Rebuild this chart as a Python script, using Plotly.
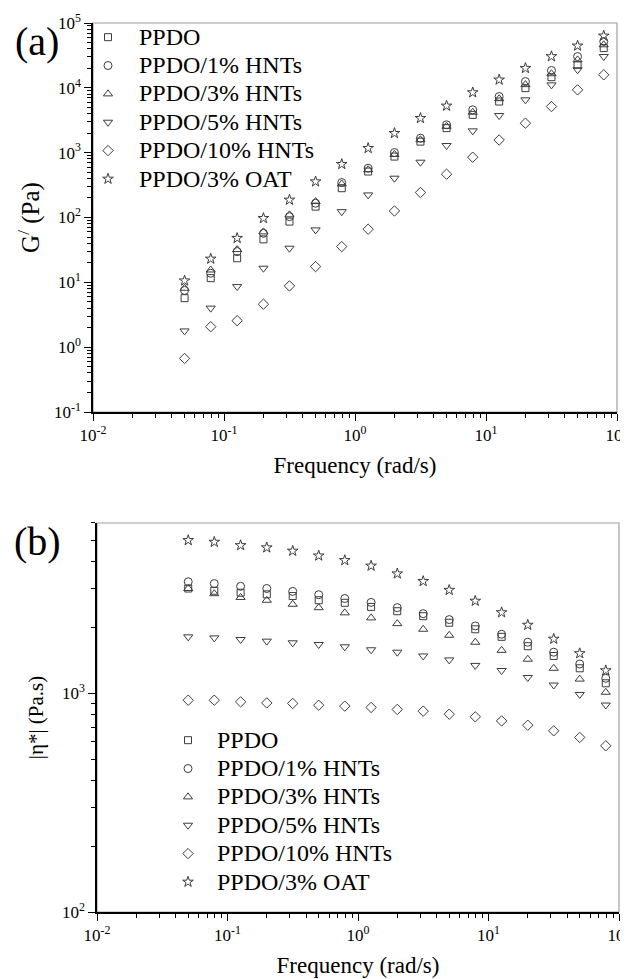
import plotly.graph_objects as go

# ---------------- data ----------------
freq = [0.05, 0.0792, 0.126, 0.2, 0.316, 0.5, 0.792, 1.26, 2.0, 3.16,
        5.0, 7.92, 12.6, 20.0, 31.6, 50.0, 79.2]

series_names = ["PPDO", "PPDO/1% HNTs", "PPDO/3% HNTs", "PPDO/5% HNTs",
                "PPDO/10% HNTs", "PPDO/3% OAT"]

# storage modulus G' (Pa)
g_ppdo = [5.7, 11.6, 23.5, 46, 86.5, 147, 283, 512, 870, 1480, 2390, 3830,
          6150, 9890, 14600, 22600, 41000]
g_hnt1 = [7.5, 13.8, 29.8, 57, 103, 166, 346, 576, 1004, 1672, 2690, 4580,
          7350, 12500, 18500, 30400, 51900]
g_hnt3 = [8.1, 15.5, 32, 60, 110, 176, 330, 545, 940, 1580, 2550, 4200,
          6800, 11200, 16500, 27000, 46100]
g_hnt5 = [1.78, 4.0, 8.6, 16.5, 33.6, 64.4, 123, 223, 404, 713, 1290, 2170,
          3740, 6530, 11100, 19000, 30400]
g_hnt10 = [0.67, 2.07, 2.56, 4.6, 8.8, 17.5, 35.6, 66, 126, 243, 466, 851,
           1570, 2850, 5150, 9310, 15900]
g_oat3 = [10.6, 23, 48, 97.5, 187, 358, 664, 1172, 1995, 3400, 5270, 8470,
          13300, 20100, 30500, 44500, 63400]

# complex viscosity |eta*| (Pa.s)
eta_ppdo = [3010, 2940, 2880, 2830, 2780, 2660, 2590, 2480, 2370, 2250, 2100,
            1960, 1810, 1640, 1480, 1300, 1110]
eta_hnt1 = [3230, 3170, 3080, 3010, 2920, 2820, 2710, 2600, 2460, 2310, 2170,
            2030, 1860, 1710, 1540, 1360, 1170]
eta_hnt3 = [3010, 2850, 2740, 2660, 2550, 2460, 2330, 2210, 2080, 1960, 1840,
            1710, 1570, 1430, 1300, 1160, 1010]
eta_hnt5 = [1810, 1790, 1760, 1730, 1700, 1670, 1630, 1580, 1540, 1480, 1420,
            1340, 1270, 1180, 1090, 987, 883]
eta_hnt10 = [929, 929, 913, 903, 898, 881, 873, 861, 843, 828, 802, 780, 747,
             714, 673, 628, 575]
eta_oat3 = [5000, 4910, 4740, 4630, 4470, 4250, 4050, 3820, 3520, 3250, 2960,
            2640, 2340, 2050, 1770, 1520, 1270]

x_tickvals = [0.01, 0.1, 1, 10, 100]
x_ticktext = ["10<sup>-2</sup>", "10<sup>-1</sup>", "10<sup>0</sup>",
              "10<sup>1</sup>", "10<sup>2</sup>"]
g_tickvals = [0.1, 1, 10, 100, 1000, 10000, 100000]
g_ticktext = ["10<sup>-1</sup>", "10<sup>0</sup>", "10<sup>1</sup>",
              "10<sup>2</sup>", "10<sup>3</sup>", "10<sup>4</sup>",
              "10<sup>5</sup>"]
eta_tickvals = [100, 1000]
eta_ticktext = ["10<sup>2</sup>", "10<sup>3</sup>"]

# ---------------- style ----------------
symbols = ["square-open", "circle-open", "triangle-up-open",
           "triangle-down-open", "diamond-open", "star-open"]
sizes = [7, 8, 8, 8, 8, 8]
mcolor = "#3c3c3c"
FONT = "Liberation Serif"

PAGE_OFFSET = 8          # default body margin of the html page
W, H = 628 - PAGE_OFFSET, 979 - PAGE_OFFSET
def px_x(p):
    return (p - PAGE_OFFSET) / W
def px_y(p):
    return 1 - (p - PAGE_OFFSET) / H

def legend_label(name):
    return '<span style="font-size:24px">' + name + '</span>'

fig = go.Figure()

g_data = [g_ppdo, g_hnt1, g_hnt3, g_hnt5, g_hnt10, g_oat3]
eta_data = [eta_ppdo, eta_hnt1, eta_hnt3, eta_hnt5, eta_hnt10, eta_oat3]

for name, ys, sym, sz in zip(series_names, g_data, symbols, sizes):
    fig.add_trace(go.Scatter(
        x=freq, y=ys, mode="markers", name=legend_label(name), legend="legend",
        marker=dict(symbol=sym, size=sz, color=mcolor, line=dict(width=1, color=mcolor)),
        xaxis="x", yaxis="y"))

for name, ys, sym, sz in zip(series_names, eta_data, symbols, sizes):
    fig.add_trace(go.Scatter(
        x=freq, y=ys, mode="markers", name=legend_label(name), legend="legend2",
        marker=dict(symbol=sym, size=sz, color=mcolor, line=dict(width=1, color=mcolor)),
        xaxis="x2", yaxis="y2"))

axis_common = dict(
    type="log", showgrid=False, zeroline=False, showline=True, automargin=False,
    linecolor="black", linewidth=1.5, ticks="outside", ticklen=7,
    tickwidth=1.2, tickcolor="black", ticklabeloverflow="allow",
    tickfont=dict(family=FONT, size=17, color="black"),
    minor=dict(ticks="outside", ticklen=4, tickwidth=1, tickcolor="black",
               dtick="D1", showgrid=False),
)

fig.update_layout(
    width=W, height=H,
    margin=dict(l=0, r=0, t=0, b=0, autoexpand=False),
    paper_bgcolor="white", plot_bgcolor="white",
    font=dict(family=FONT, color="black"),
    xaxis=dict(axis_common, domain=[px_x(93), px_x(617)], anchor="y",
               range=[-2, 2], tickvals=x_tickvals, ticktext=x_ticktext,
               title=dict(text="Frequency (rad/s)",
                          font=dict(family=FONT, size=23), standoff=13)),
    yaxis=dict(axis_common, domain=[px_y(412), px_y(23)], anchor="x",
               range=[-1, 5], tickvals=g_tickvals, ticktext=g_ticktext,
               title=dict(text="G<sup>/</sup> (Pa)",
                          font=dict(family=FONT, size=25), standoff=7)),
    xaxis2=dict(axis_common, domain=[px_x(97), px_x(619)], anchor="y2",
                range=[-2, 2], tickvals=x_tickvals, ticktext=x_ticktext,
                title=dict(text="Frequency (rad/s)",
                           font=dict(family=FONT, size=23), standoff=13)),
    yaxis2=dict(axis_common, domain=[px_y(912), px_y(523)], anchor="x2",
                range=[2, 3.778], tickvals=eta_tickvals, ticktext=eta_ticktext,
                title=dict(text="|η*| (Pa.s)",
                           font=dict(family=FONT, size=21), standoff=13)),
    legend=dict(x=px_x(77), y=px_y(18), xanchor="left", yanchor="top",
                bgcolor="rgba(0,0,0,0)", itemwidth=52,
                font=dict(family=FONT, size=19.5, color="black")),
    legend2=dict(x=px_x(159), y=px_y(721), xanchor="left", yanchor="top",
                 bgcolor="rgba(0,0,0,0)", itemwidth=48,
                 font=dict(family=FONT, size=19.5, color="black")),
    showlegend=True,
)

# gray frame (top/right borders)
for xr, yr in [("x domain", "y domain"), ("x2 domain", "y2 domain")]:
    fig.add_shape(type="rect", xref=xr, yref=yr, x0=0, x1=1, y0=0, y1=1,
                  line=dict(color="#a0a0a0", width=1.2), layer="below")

fig.add_annotation(text="(a)", x=px_x(37), y=px_y(42), xref="paper", yref="paper",
                   xanchor="center", yanchor="middle",
                   showarrow=False, font=dict(family=FONT, size=40, color="black"))
fig.add_annotation(text="(b)", x=px_x(37), y=px_y(541), xref="paper", yref="paper",
                   xanchor="center", yanchor="middle",
                   showarrow=False, font=dict(family=FONT, size=40, color="black"))

fig.write_html("out.html")
